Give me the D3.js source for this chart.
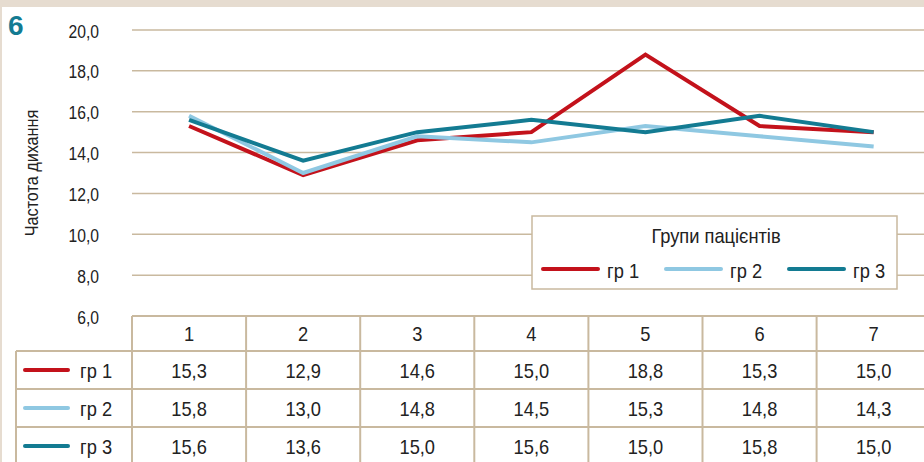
<!DOCTYPE html>
<html lang="uk">
<head>
    <meta charset="UTF-8">
    <script src="https://d3js.org/d3.v7.min.js"></script>
    <title>Частота дихання</title>
    <style>
        body {
            margin: 0;
            overflow: hidden;
            background: white;
        }

        text {
            font-family: "Liberation Sans", Arial, sans-serif;
            fill: #222;
        }
    </style>
</head>
<body>
    <script>
        // data
        const categories = ["1", "2", "3", "4", "5", "6", "7"];
        const seriesNames = ["гр 1", "гр 2", "гр 3"];
        const gr1 = [15.3, 12.9, 14.6, 15.0, 18.8, 15.3, 15.0];
        const gr2 = [15.8, 13.0, 14.8, 14.5, 15.3, 14.8, 14.3];
        const gr3 = [15.6, 13.6, 15.0, 15.6, 15.0, 15.8, 15.0];
        const yTicks = [6, 8, 10, 12, 14, 16, 18, 20];
        const colors = ["#c3121b", "#8fc8e2", "#137b92"];

        const width = 924,
              height = 462;

        const svg = d3.select('body')
            .append('svg')
            .attr('width', width)
            .attr('height', height);

        // the original font is a bit narrow, so squeeze text horizontally
        const squeeze = 0.87;
        const label = (g, x, y, str, size, anchor, dy) => g.append('text')
            .attr('transform', `translate(${x},${y}) scale(${squeeze},1)`)
            .attr('dy', dy || '0.36em')
            .attr('text-anchor', anchor || 'start')
            .style('font-size', size + 'px')
            .text(str);

        const fmt = d => d3.format('.1f')(d).replace('.', ',');

        // beige frame
        svg.append('rect')
            .attr('x', 0).attr('y', 0)
            .attr('width', width).attr('height', 7)
            .attr('fill', '#e6dcd0');
        svg.append('rect')
            .attr('x', 0).attr('y', 0)
            .attr('width', 2).attr('height', height)
            .attr('fill', '#e6dcd0');

        svg.append('text')
            .attr('x', 8)
            .attr('y', 35)
            .style('font-size', '28px')
            .style('font-weight', 'bold')
            .style('fill', '#137b92')
            .text('6');

        const margin = { left: 132, top: 30 };
        const colW = 114.1;
        const rowH = 38;

        const x = d3.scaleBand()
            .domain(categories)
            .range([margin.left, margin.left + colW * categories.length]);

        const y = d3.scaleLinear()
            .domain([6, 20])
            .range([316, margin.top]);

        const gridColor = '#c9b99f';

        // gridlines
        svg.append('g')
            .selectAll('line')
            .data(yTicks.filter(d => d > 6))
            .enter()
            .append('line')
            .attr('x1', margin.left)
            .attr('x2', width)
            .attr('y1', d => y(d))
            .attr('y2', d => y(d))
            .attr('stroke', gridColor)
            .attr('stroke-width', 1.5);

        // y tick labels
        const tickG = svg.append('g');
        yTicks.forEach(t => label(tickG, 99, y(t), fmt(t), 18, 'end', '0.42em'));

        svg.append('text')
            .attr('transform', `translate(38, ${y(13)}) rotate(-90) scale(0.9,1)`)
            .attr('text-anchor', 'middle')
            .style('font-size', '18px')
            .text('Частота дихання');

        // table
        const tableTop = y(6);
        const table = svg.append('g');
        const allSeries = [gr1, gr2, gr3];

        table.append('line')
            .attr('x1', margin.left).attr('x2', width)
            .attr('y1', tableTop).attr('y2', tableTop)
            .attr('stroke', gridColor).attr('stroke-width', 2);
        const rowTops = [tableTop + 35, tableTop + 35 + rowH, tableTop + 35 + rowH * 2];
        rowTops.forEach(t => {
            table.append('line')
                .attr('x1', 16).attr('x2', width)
                .attr('y1', t).attr('y2', t)
                .attr('stroke', gridColor).attr('stroke-width', 2);
        });
        table.append('line')
            .attr('x1', 16).attr('x2', 16)
            .attr('y1', rowTops[0]).attr('y2', height)
            .attr('stroke', gridColor).attr('stroke-width', 2);
        table.selectAll('.vline')
            .data(categories)
            .enter()
            .append('line')
            .attr('x1', d => x(d)).attr('x2', d => x(d))
            .attr('y1', tableTop).attr('y2', height)
            .attr('stroke', gridColor).attr('stroke-width', 2);

        // header
        categories.forEach(c => label(table, x(c) + x.bandwidth() / 2, tableTop + 17.5, c, 21, 'middle'));

        allSeries.forEach((vals, i) => {
            const cy = rowTops[i] + rowH / 2;
            table.append('line')
                .attr('x1', 25).attr('x2', 68)
                .attr('y1', cy).attr('y2', cy)
                .attr('stroke', colors[i])
                .attr('stroke-width', 4)
                .attr('stroke-linecap', 'round');
            label(table, 80, cy, seriesNames[i], 21);
            vals.forEach((v, j) => label(table, x(categories[j]) + x.bandwidth() / 2, cy, fmt(v), 21, 'middle'));
        });

        // series lines
        const line = d3.line()
            .x((d, j) => x(categories[j]) + x.bandwidth() / 2)
            .y(d => y(d));

        allSeries.forEach((vals, i) => {
            svg.append('path')
                .datum(vals)
                .attr('fill', 'none')
                .attr('stroke', colors[i])
                .attr('stroke-width', 4)
                .attr('stroke-linejoin', 'miter')
                .attr('d', line);
        });

        // legend
        const legend = svg.append('g');
        legend.append('rect')
            .attr('x', 532).attr('y', 216)
            .attr('width', 365).attr('height', 73)
            .attr('fill', 'white')
            .attr('stroke', gridColor)
            .attr('stroke-width', 1.5);
        label(legend, 716, 243, 'Групи пацієнтів', 21, 'middle', '0');
        const legX = [543, 666, 789];
        seriesNames.forEach((name, i) => {
            legend.append('line')
                .attr('x1', legX[i]).attr('x2', legX[i] + 55)
                .attr('y1', 269).attr('y2', 269)
                .attr('stroke', colors[i])
                .attr('stroke-width', 4)
                .attr('stroke-linecap', 'round');
            label(legend, legX[i] + 64, 270, name, 21);
        });
    </script>
</body>
</html>
